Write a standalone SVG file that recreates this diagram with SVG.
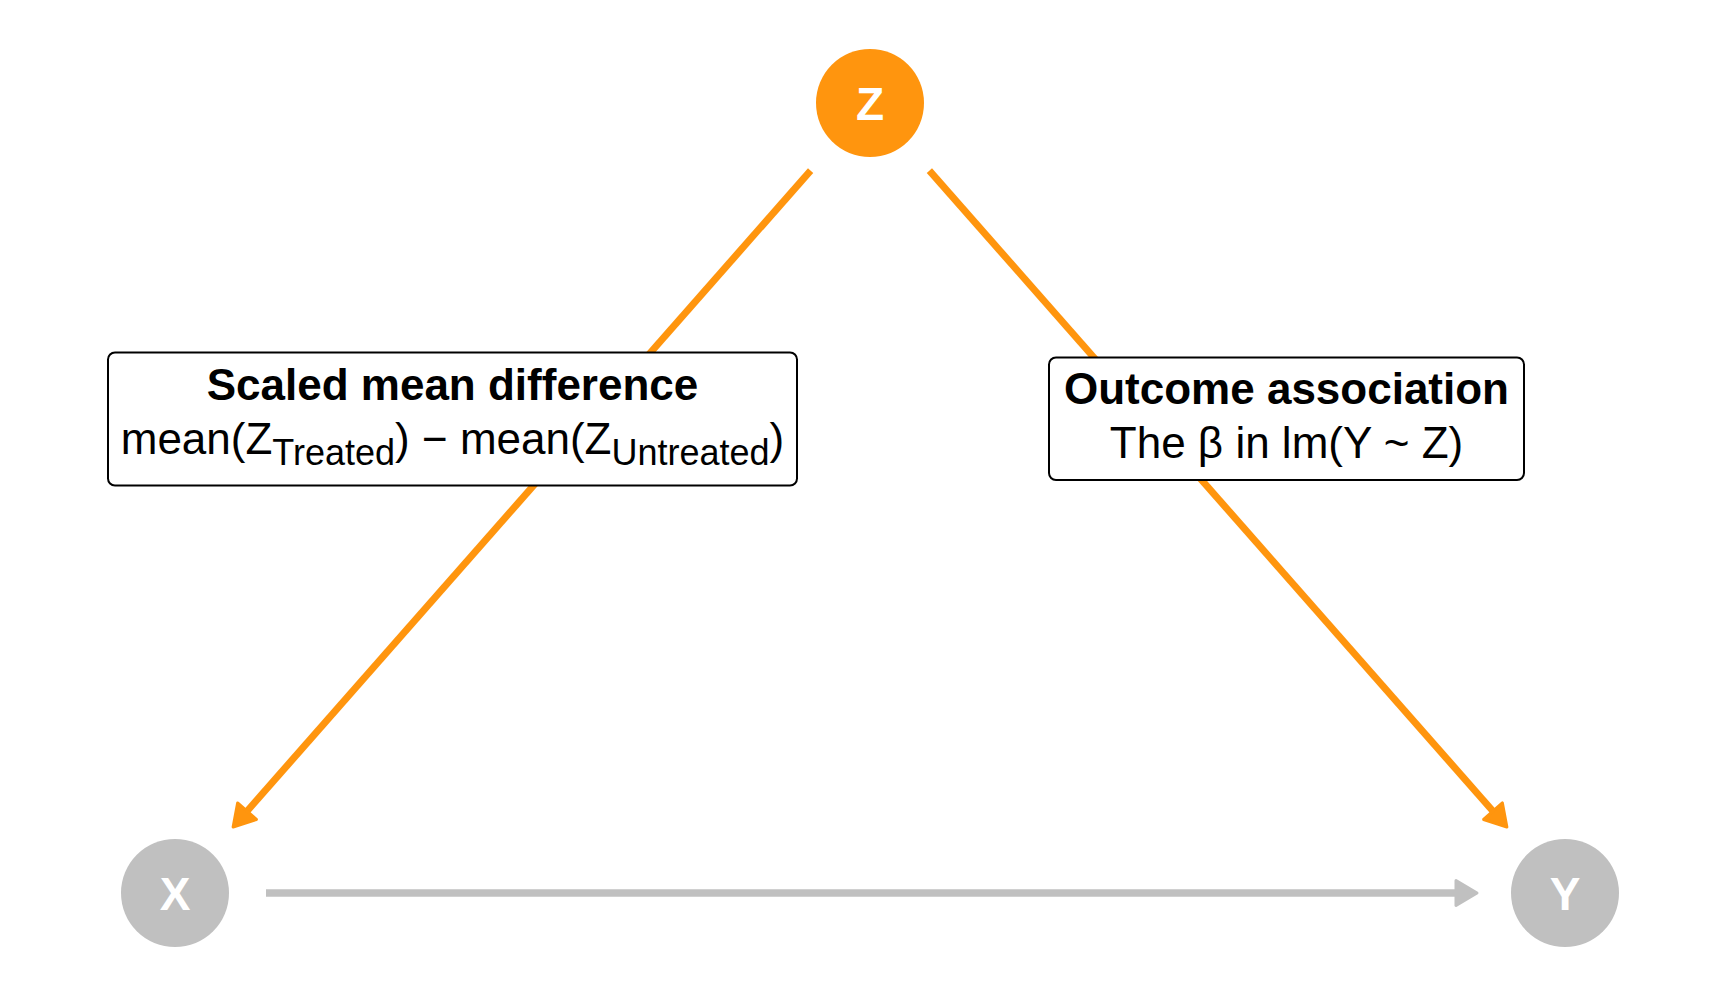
<svg xmlns="http://www.w3.org/2000/svg" width="1728" height="1008" viewBox="0 0 1728 1008">
  <style>
    .orange-line { stroke: #ff950e; stroke-width: 7; fill: none; }
    .gray-line { stroke: #c0c0c0; stroke-width: 7.5; fill: none; }
    .node-z { fill: #ff950e; }
    .node-g { fill: #c0c0c0; }
    .node-label { font-family: "Liberation Sans", Arial, sans-serif; font-weight: bold; font-size: 46px; fill: #ffffff; text-anchor: middle; }
    .box { fill: #ffffff; stroke: #000000; stroke-width: 2; }
    .t-bold { font-family: "Liberation Sans", Arial, sans-serif; font-weight: bold; font-size: 44px; fill: #000000; text-anchor: middle; }
    .t-reg { font-family: "Liberation Sans", Arial, sans-serif; font-size: 44px; fill: #000000; text-anchor: middle; }
    .sub { font-size: 36px; }
  </style>
  <defs>
    <marker id="head-orange" markerUnits="userSpaceOnUse" viewBox="-4 -16 30 32" refX="0" refY="0" markerWidth="30" markerHeight="32" orient="auto" overflow="visible">
      <path d="M0,-12.5 L21,0 L0,12.5 Z" fill="#ff950e" stroke="#ff950e" stroke-width="3" stroke-linejoin="round"/>
    </marker>
    <marker id="head-gray" markerUnits="userSpaceOnUse" viewBox="-4 -16 30 32" refX="0" refY="0" markerWidth="30" markerHeight="32" orient="auto" overflow="visible">
      <path d="M0,-12.5 L21,0 L0,12.5 Z" fill="#c0c0c0" stroke="#c0c0c0" stroke-width="3" stroke-linejoin="round"/>
    </marker>
  </defs>
  <rect width="1728" height="1008" fill="#ffffff"/>

  <g id="connectors">
    <line id="edge-z-x" class="orange-line" x1="810.6" y1="170.6" x2="247" y2="811.2" marker-end="url(#head-orange)"/>
    <line id="edge-z-y" class="orange-line" x1="929.4" y1="170.6" x2="1493" y2="811.2" marker-end="url(#head-orange)"/>
    <line id="edge-x-y" class="gray-line" x1="266" y1="893" x2="1456" y2="893" marker-end="url(#head-gray)"/>
  </g>

  <g id="label-smd">
    <rect class="box" x="108" y="352.5" width="689" height="133" rx="7" ry="7"/>
    <text class="t-bold" x="452.5" y="399.5">Scaled mean difference</text>
    <text class="t-reg" x="452.5" y="453.5">mean(Z<tspan class="sub" dy="11">Treated</tspan><tspan dy="-11">) − mean(Z</tspan><tspan class="sub" dy="11">Untreated</tspan><tspan dy="-11">)</tspan></text>
  </g>

  <g id="label-outcome">
    <rect class="box" x="1049" y="357.5" width="475" height="122.5" rx="7" ry="7"/>
    <text class="t-bold" x="1286.5" y="403.5">Outcome association</text>
    <text class="t-reg" x="1286.5" y="457.5">The β in lm(Y ~ Z)</text>
  </g>

  <g id="node-z">
    <circle class="node-z" cx="870" cy="103" r="54"/>
    <text class="node-label" x="870" y="119.5">Z</text>
  </g>
  <g id="node-x">
    <circle class="node-g" cx="175" cy="893" r="54"/>
    <text class="node-label" x="175" y="909.5">X</text>
  </g>
  <g id="node-y">
    <circle class="node-g" cx="1565" cy="893" r="54"/>
    <text class="node-label" x="1565" y="909.5">Y</text>
  </g>
</svg>
